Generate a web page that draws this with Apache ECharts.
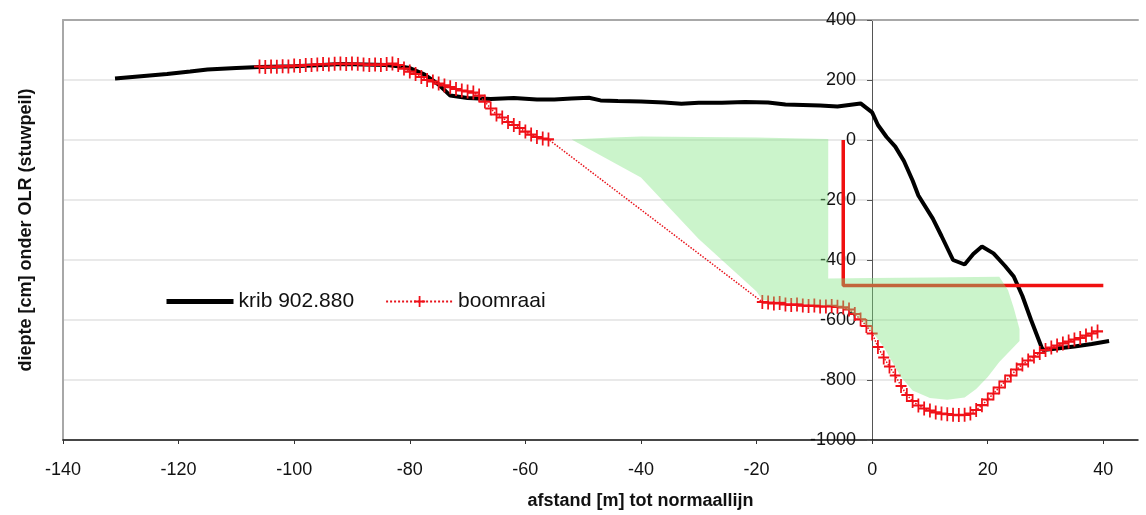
<!DOCTYPE html>
<html><head><meta charset="utf-8">
<script src="https://cdn.jsdelivr.net/npm/echarts@6/dist/echarts.min.js"></script>
<style>html,body{margin:0;padding:0;background:#fff}#c{width:1146px;height:515px}</style>
</head><body><div id="c"></div>
<script>
// ---- data ----
const xTicks = [-140,-120,-100,-80,-60,-40,-20,0,20,40];
const yTicks = [-1000,-800,-600,-400,-200,0,200,400];
const kribName = 'krib 902.880';
const boomName = 'boomraai';
const kribProfile = [
  [-131,205],[-128,210],[-125,215],[-122,220],[-118,228],[-115,235],[-110,240],[-106,243],[-100,246],
  [-96,249],[-92,253],[-88,252],[-84,250],[-82,246],[-80,240],[-77.5,219],[-75,185],[-73,148],[-70,140],
  [-66,137],[-62,140],[-58,135],[-55,135],[-52,138],[-49,141],[-47,132],[-44,130],[-40,128],[-36,125],
  [-33,121],[-30,124],[-26,124],[-22,127],[-18,125],[-15,118],[-12,117],[-9,115],[-6,112],[-4,117],
  [-2,122],[0,92],[1,50],[2.5,10],[4,-22],[5.5,-70],[7,-135],[8,-185],[10.5,-262],[12,-320],[14,-400],
  [16,-415],[17.5,-380],[19,-355],[21,-378],[23,-420],[24.5,-455],[26,-520],[27.5,-600],[29.5,-700],
  [32,-695],[35,-688],[38,-680],[41,-670]
];
const boomProfile = [
  [-106,245],[-105,243],[-104,245],[-103,244],[-102,246],[-101,245],[-100,248],[-99,247],[-98,250],
  [-97,250],[-96,252],[-95,253],[-94,252],[-93,254],[-92,255],[-91,253],[-90,255],[-89,254],[-88,252],
  [-87,250],[-86,252],[-85,250],[-84,253],[-83,255],[-82,250],[-81,238],[-80,228],[-79,220],[-78,210],
  [-77,200],[-76,195],[-75,188],[-74,182],[-73,176],[-72,170],[-71,165],[-70,162],[-69,158],[-68,148],
  [-67,128],[-66,105],[-65,85],[-64,75],[-63,60],[-62,50],[-61,40],[-60,28],[-59,18],[-58,10],[-57,5],
  [-56,2],
  [-19,-540],[-18,-542],[-17,-545],[-16,-543],[-15,-548],[-14,-550],[-13,-548],[-12,-552],[-11,-553],
  [-10,-552],[-9,-555],[-8,-555],[-7,-553],[-6,-556],[-5,-558],[-4,-565],[-3,-580],[-2,-598],[-1,-620],
  [0,-645],[1,-690],[2,-725],[3,-755],[4,-785],[5,-820],[6,-850],[7,-870],[8,-885],[9,-895],[10,-902],
  [11,-908],[12,-912],[13,-914],[14,-916],[15,-917],[16,-916],[17,-912],[18,-900],[19,-884],[20,-865],
  [21,-845],[22,-825],[23,-805],[24,-785],[25,-765],[26,-748],[27,-735],[28,-722],[29,-710],[30,-700],
  [31,-692],[32,-685],[33,-678],[34,-672],[35,-665],[36,-660],[37,-652],[38,-645],[39,-638]
];
const zoneOutline = [
  [-52,2],[-45,8],[-40,12],[-30,10],[-20,8],[-12,5],[-7.6,3],[-7.6,-200],[-7.6,-462],[0,-460],[10,-458],
  [22,-456],[23.5,-500],[24.5,-560],[25.5,-630],[25.5,-670],[24,-700],[22,-740],[20,-790],[18,-830],
  [16,-858],[13,-866],[10,-860],[7,-835],[5,-790],[3.5,-740],[2,-690],[0,-638],[-2,-598],[-4,-568],
  [-7,-553],[-12,-546],[-19,-533],[-20,-505],[-30,-330],[-40,-125],[-52,2]
];
const limitLine = [[-5,0],[-5,-485],[40,-485]];
const xTitle = 'afstand [m] tot normaallijn';
const yTitle = 'diepte [cm] onder OLR (stuwpeil)';

// ---- chart ----
const FONT = 'Liberation Sans, Arial, Helvetica, sans-serif';
const plusPath = 'path://M4.2,0H5.8V4.2H10V5.8H5.8V10H4.2V5.8H0V4.2H4.2Z';
const X_MIN = -140, X_MAX = 46;
const GRID = {left: 63, right: 8, top: 20, bottom: 70};
const plotW = 1146 - GRID.left - GRID.right;
const zeroOffset = -Math.round((0 - X_MIN) / (X_MAX - X_MIN) * plotW);
const chart = echarts.init(document.getElementById('c'), null, {renderer: 'canvas'});
chart.setOption({
  animation: false,
  backgroundColor: '#fff',
  grid: Object.assign({containLabel: false}, GRID),
  legend: {
    data: [
      {name: kribName, itemStyle: {opacity: 0}, lineStyle: {width: 5, color: '#000'}},
      {name: boomName}
    ],
    left: 159, top: 286,
    itemWidth: 67, itemHeight: 14, itemGap: 31,
    textStyle: {fontFamily: FONT, fontSize: 21, color: '#111', padding: [0,0,0,0]}
  },
  xAxis: [{
    type: 'value', min: X_MIN, max: X_MAX, interval: 20,
    axisLine: {onZero: false, lineStyle: {color: '#111', width: 1.5}},
    axisTick: {show: true, length: 4, customValues: xTicks, lineStyle: {color: '#333'}},
    axisLabel: {customValues: xTicks, fontFamily: FONT, fontSize: 18, color: '#111', margin: 21,
      formatter: function (v) { return String(v); }},
    splitLine: {show: false},
    name: xTitle, nameLocation: 'middle', nameGap: 52,
    nameTextStyle: {fontFamily: FONT, fontSize: 18, fontWeight: 'bold', color: '#111', padding: [0,0,0,80]}
  }, {
    type: 'value', min: X_MIN, max: X_MAX, position: 'top',
    axisLine: {onZero: false, lineStyle: {color: '#a8a8a8', width: 2}},
    axisTick: {show: false}, axisLabel: {show: false}, splitLine: {show: false}
  }],
  yAxis: [{
    type: 'value', min: -1000, max: 400, interval: 200, position: 'left', offset: zeroOffset,
    axisLine: {show: true, onZero: false, lineStyle: {color: '#555', width: 1}},
    axisTick: {show: true, length: 5, lineStyle: {color: '#555'}},
    axisLabel: {fontFamily: FONT, fontSize: 18, color: '#111', margin: 16,
      formatter: function (v) { return String(v); }},
    splitLine: {show: true, lineStyle: {color: '#e2e2e2', width: 1.5}}
  }, {
    type: 'value', min: -1000, max: 400, position: 'left',
    axisLine: {show: true, onZero: false, lineStyle: {color: '#a8a8a8', width: 2}},
    axisTick: {show: false}, axisLabel: {show: false}, splitLine: {show: false},
    name: yTitle, nameLocation: 'middle', nameGap: 28,
    nameTextStyle: {fontFamily: FONT, fontSize: 18, fontWeight: 'bold', color: '#111'}
  }],
  series: [{
    name: kribName, type: 'line', data: kribProfile, z: 3,
    symbol: 'none', smooth: false,
    lineStyle: {color: '#000', width: 4},
    itemStyle: {color: '#000'}
  }, {
    name: boomName, type: 'line', data: boomProfile, z: 4,
    symbol: plusPath, symbolSize: [11, 14], showAllSymbol: true,
    lineStyle: {color: '#e8141c', width: 1.5, type: 'dotted'},
    itemStyle: {color: '#f01018'}
  }, {
    name: 'grens', type: 'line', data: limitLine, z: 5,
    symbol: 'none', lineStyle: {color: '#f01010', width: 3.5}
  }, {
    name: 'zone', type: 'custom', z: 6, data: [[0, 0]],
    renderItem: function (params, api) {
      const pts = zoneOutline.map(function (p) { return api.coord(p); });
      return {type: 'polygon', shape: {points: pts},
        style: {fill: 'rgba(125,228,125,0.40)', stroke: null}};
    }
  }]
});
</script>
</body></html>
